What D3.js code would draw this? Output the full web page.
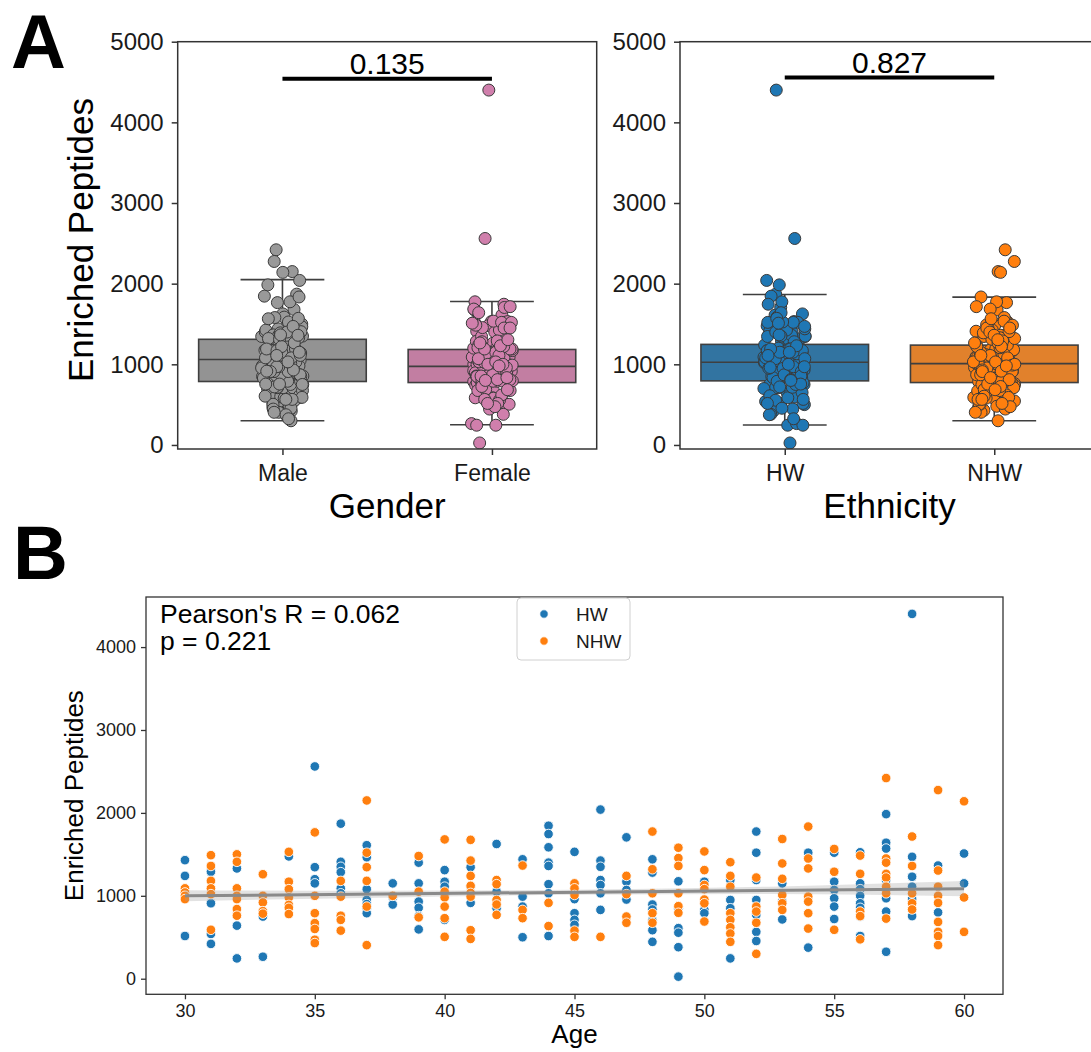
<!DOCTYPE html>
<html><head><meta charset="utf-8">
<script src="https://cdn.jsdelivr.net/npm/d3@7"></script>
<style>
body{margin:0;background:#fff}
svg{display:block;font-family:"Liberation Sans",Arial,sans-serif}
</style>
</head><body>
<svg id="c" width="1091" height="1052"></svg>
<script>
// ---------------- DATA ----------------
const ages = [30,31,32,33,34,35,36,37,38,39,40,41,42,43,44,45,46,47,48,49,50,51,52,53,54,55,56,57,58,59,60];
const hwValues = [
  [1430,1240,515],[1290,910,540,420],[1330,640,245],[750,265],[1475],
  [2560,1345,1200,1150,620],[1870,1410,1350,1285,1090,1030],[1610,1465,1080,950,900,850,790],[1150,980,895],[1400,1150,930,855,755,595],
  [1310,1170,1110,1020,710],[1345,1110,915],[1625,1050,850],[1440,990,870,500],[1845,1745,1585,1400,1360,1140,1030,515],
  [1530,960,790,710,650],[2040,1425,1350,1190,1130,1030,830],[1705,1170,1070,955],[1440,1280,895,835,700,585,445],[1175,850,610,555,380,25],
  [1170,830,790],[1190,950,850,245],[1775,1520,1190,950,770,565,455],[1150,930,715],[1520,375],
  [1520,1170,1070,970,870,720],[1525,1150,1080,1000,910,855,750,515],[1985,1640,1570,1190,970,810,325],[4400,1470,1230,1110,960,755],[1365,800],
  [1510,1150]
];
const nhwValues = [
  [1090,1040,1000,960],[1490,1360,1180,1090,1020,590],[1500,1410,1090,1000,960,840,760],[1260,1000,920,815,785],[1530,1170,1080,980,890,855,780],
  [1765,1000,790,670,600,470,430],[1180,990,760,710,580],[2150,1520,1345,1180,870,405],[1000],[1480,1050,740],
  [1680,1050,980,870,730,505],[1675,1425,1240,1120,1035,990,585,480],[1190,1140,950,895,770],[1365,830,730],[915,635],
  [1150,1090,1010,580,505],[505],[1240,1020,750,675],[1775,1320,1030,790,675],[1580,1455,1360,1030,875,795],
  [1535,1310,1130,1080,955,910,690],[1405,1240,1110,790,710,620,545,445],[1220,870,810,675,300],[1685,1390,1205,1010,910,830],[1835,1450,1330,990,930,790,605],
  [1565,1290,590],[1485,1265,810,755,475],[2420,1450,1400,1265,1220,1110,1030,725],[1715,1360,1030,910,835],[2275,1305,1110,1000,915,685,565,515,405],
  [2140,980,565]
];
// gender of each point above (M = Male, F = Female)
const hwSex = ["MFM","MFMM","MMF","MF","M","FMFMM","MFMFMF","FMFMFMF","FMF","MFMFMF","MFMFM","FMF","MFM","MFMF","MFMFMFMF",
  "FMFMF","MFMFMFM","FMFM","MFMFMFM","MFMFFF","MFM","MFMF","MFMFMFM","MFM","FM","FMFMFM","MFMFMFMF","MFMFMFM","FMFMFM","MF","FM"];
const nhwSex = ["FMFM","FMMFFM","MFMFMFM","FMFMF","FMFMFMM","MFMFMMM","MFMFM","MFMFMM","M","FMF","MFMFMF","FMFMFMFM","FMFMF","MFM","MF",
  "MFMFM","F","MFMF","FMFMF","MFMFMF","FMFMFMF","MFMFMFMF","FMFMM","FMFMFM","MFMFMFM","MFM","FMFMF","MFMFMFMF","FMFMF","MFMFMFMFM","MFM"];

const genderCats = ["Male","Female"];
const ethCats = ["HW","NHW"];
// box statistics: [whiskerLow, q1, median, q3, whiskerHigh]
const genderBoxes = [[301,787,1059,1310,2050],[251,774,975,1184,1778]];
const ethBoxes = [[247,795,1025,1247,1866],[301,774,1008,1238,1833]];
const genderP = "0.135", ethP = "0.827";
const sigBarValue = [4540, 4556];
const boxTicks = [0,1000,2000,3000,4000,5000];
const scatterYTicks = [0,1000,2000,3000,4000];
const ageTicks = [30,35,40,45,50,55,60];
// regression fit and confidence band
const regAge = [30,60], regFit = [1000,1085];
const ciAge = [30,37.5,45,52.5,60];
const ciLow = [935,978,1012,1022,995];
const ciHigh = [1068,1062,1074,1110,1178];
const statLines = ["Pearson's R = 0.062","p = 0.221"];

// ---------------- DRAW ----------------
const svg = d3.select("#c");
svg.append("rect").attr("width",1091).attr("height",1052).attr("fill","#fff");
const TXT = "#1a1a1a", SPINE = "#333";

// deterministic jitter (visual placement only)
function jit(i){ const s = Math.sin(i*12.9898+78.233)*43758.5453; return (s-Math.floor(s)) - 0.5; }

// flatten
const pts = [];
ages.forEach((a,i)=>{
  hwValues[i].forEach((v,j)=>pts.push({age:a,val:v,eth:"HW",sex:hwSex[i][j]==="M"?"Male":"Female"}));
  nhwValues[i].forEach((v,j)=>pts.push({age:a,val:v,eth:"NHW",sex:nhwSex[i][j]==="M"?"Male":"Female"}));
});

function boxPanel(opt){
  const {x0,x1,y0,y1,cats,boxes,key,ptColors,boxColors,pText,sigVal,xlabel,jseed} = opt;
  const g = svg.append("g");
  const y = d3.scaleLinear().domain([-50,5000]).range([y1,y0]);
  const x = d3.scalePoint().domain(cats).range([x0,x1]).padding(0.5);
  const bw = x.step()*0.8;
  const defs = svg.append("defs");
  const cid = "clip"+jseed;
  defs.append("clipPath").attr("id",cid).append("rect").attr("x",x0).attr("y",y0).attr("width",x1-x0).attr("height",y1-y0);
  const inner = g.append("g").attr("clip-path",`url(#${cid})`);
  // boxes
  cats.forEach((c,k)=>{
    const b = boxes[k], cx = x(c);
    const bg = inner.append("g").attr("stroke","#3f3f3f").attr("stroke-width",1.6);
    bg.append("line").attr("x1",cx).attr("x2",cx).attr("y1",y(b[0])).attr("y2",y(b[1]));
    bg.append("line").attr("x1",cx).attr("x2",cx).attr("y1",y(b[3])).attr("y2",y(b[4]));
    bg.append("line").attr("x1",cx-bw/4).attr("x2",cx+bw/4).attr("y1",y(b[0])).attr("y2",y(b[0]));
    bg.append("line").attr("x1",cx-bw/4).attr("x2",cx+bw/4).attr("y1",y(b[4])).attr("y2",y(b[4]));
    bg.append("rect").attr("x",cx-bw/2).attr("width",bw).attr("y",y(b[3])).attr("height",y(b[1])-y(b[3])).attr("fill",boxColors[k]);
    bg.append("line").attr("x1",cx-bw/2).attr("x2",cx+bw/2).attr("y1",y(b[2])).attr("y2",y(b[2]));
  });
  // strip points
  cats.forEach((c,k)=>{
    const sub = pts.filter(p=>p[key]===c);
    inner.append("g").selectAll("circle").data(sub).join("circle")
      .attr("cx",(d,i)=>x(c)+jit(i*3+jseed+k*101)*2*0.1*x.step())
      .attr("cy",d=>y(d.val)).attr("r",6)
      .attr("fill",ptColors[k]).attr("stroke","#3a3a3a").attr("stroke-width",1);
  });
  // spines
  g.append("rect").attr("x",x0).attr("y",y0).attr("width",x1-x0).attr("height",y1-y0)
    .attr("fill","none").attr("stroke",SPINE).attr("stroke-width",1.5);
  // y axis
  const ya = g.append("g").attr("transform",`translate(${x0},0)`)
    .call(d3.axisLeft(y).tickValues(boxTicks).tickSize(6).tickPadding(8).tickFormat(d3.format("d")));
  ya.select(".domain").remove();
  ya.selectAll("line").attr("stroke",SPINE).attr("stroke-width",1.5);
  ya.selectAll("text").attr("font-size",24).attr("fill",TXT).attr("font-family","Liberation Sans, Arial");
  // x axis
  const xa = g.append("g").attr("transform",`translate(0,${y1})`)
    .call(d3.axisBottom(x).tickSize(6).tickPadding(10));
  xa.select(".domain").remove();
  xa.selectAll("line").attr("stroke",SPINE).attr("stroke-width",1.5);
  xa.selectAll("text").attr("font-size",23).attr("fill",TXT).attr("font-family","Liberation Sans, Arial");
  // significance
  g.append("line").attr("x1",x(cats[0])).attr("x2",x(cats[1])).attr("y1",y(sigVal)).attr("y2",y(sigVal))
    .attr("stroke","#000").attr("stroke-width",4);
  g.append("text").attr("x",(x(cats[0])+x(cats[1]))/2).attr("y",y(sigVal)-5).attr("text-anchor","middle")
    .attr("font-size",30).attr("fill","#000").text(pText);
  // x label
  g.append("text").attr("x",(x0+x1)/2).attr("y",518).attr("text-anchor","middle").attr("font-size",35).attr("fill","#000").text(xlabel);
  return y;
}

boxPanel({x0:177.7,x1:596.7,y0:41.7,y1:449,cats:genderCats,boxes:genderBoxes,key:"sex",
  ptColors:["#999999","#d07fac"],boxColors:["#939393","#c27ea2"],pText:genderP,sigVal:sigBarValue[0],xlabel:"Gender",jseed:1});
boxPanel({x0:680,x1:1099,y0:41.7,y1:449,cats:ethCats,boxes:ethBoxes,key:"eth",
  ptColors:["#1f77b4","#ff7f0e"],boxColors:["#3274a1","#e1812c"],pText:ethP,sigVal:sigBarValue[1],xlabel:"Ethnicity",jseed:7});

svg.append("text").attr("transform","translate(93,240) rotate(-90)").attr("text-anchor","middle")
  .attr("font-size",35).attr("fill","#000").text("Enriched Peptides");
svg.append("text").attr("x",11).attr("y",68).attr("font-size",76).attr("font-weight","bold").attr("fill","#000").text("A");
svg.append("text").attr("x",13).attr("y",579).attr("font-size",76).attr("font-weight","bold").attr("fill","#000").text("B");

// ---------------- PANEL B ----------------
const bx0=146,bx1=1003,by0=597,by1=994.3;
const xs = d3.scaleLinear().domain([28.5,61.5]).range([bx0,bx1]);
const ys = d3.scaleLinear().domain([-188,4604]).range([by1,by0]);
const colB = {HW:"#1f77b4",NHW:"#ff7f0e"};
const gB = svg.append("g");
gB.append("g").selectAll("circle").data(pts).join("circle")
  .attr("cx",d=>xs(d.age)).attr("cy",d=>ys(d.val)).attr("r",4.8)
  .attr("fill",d=>colB[d.eth]).attr("stroke","#fff").attr("stroke-width",0.9);
// CI band & regression line
const area = d3.area().x((d,i)=>xs(ciAge[i])).y0((d,i)=>ys(ciLow[i])).y1((d,i)=>ys(ciHigh[i])).curve(d3.curveMonotoneX);
gB.append("path").attr("d",area(ciAge)).attr("fill","#a0a0a0").attr("opacity",0.3);
gB.append("path").attr("d",d3.line().x((d,i)=>xs(regAge[i])).y((d,i)=>ys(regFit[i]))(regAge))
  .attr("stroke","#8a8a8a").attr("stroke-width",3).attr("fill","none");
gB.append("rect").attr("x",bx0).attr("y",by0).attr("width",bx1-bx0).attr("height",by1-by0)
  .attr("fill","none").attr("stroke",SPINE).attr("stroke-width",1.3);
const yaB = gB.append("g").attr("transform",`translate(${bx0},0)`)
  .call(d3.axisLeft(ys).tickValues(scatterYTicks).tickSize(5).tickPadding(5).tickFormat(d3.format("d")));
yaB.select(".domain").remove();
yaB.selectAll("line").attr("stroke",SPINE).attr("stroke-width",1.3);
yaB.selectAll("text").attr("font-size",18).attr("fill",TXT).attr("font-family","Liberation Sans, Arial");
const xaB = gB.append("g").attr("transform",`translate(0,${by1})`)
  .call(d3.axisBottom(xs).tickValues(ageTicks).tickSize(5).tickPadding(5).tickFormat(d3.format("d")));
xaB.select(".domain").remove();
xaB.selectAll("line").attr("stroke",SPINE).attr("stroke-width",1.3);
xaB.selectAll("text").attr("font-size",18).attr("fill",TXT).attr("font-family","Liberation Sans, Arial");
gB.append("text").attr("x",(bx0+bx1)/2).attr("y",1043).attr("text-anchor","middle").attr("font-size",26).attr("fill","#000").text("Age");
gB.append("text").attr("transform",`translate(83,${(by0+by1)/2}) rotate(-90)`).attr("text-anchor","middle")
  .attr("font-size",26).attr("fill","#000").text("Enriched Peptides");
statLines.forEach((t,i)=>gB.append("text").attr("x",160).attr("y",623+i*27).attr("font-size",26.5).attr("fill","#000").text(t));
// legend
const lg = gB.append("g");
lg.append("rect").attr("x",517).attr("y",598).attr("width",113).attr("height",62).attr("rx",4)
  .attr("fill","#fff").attr("fill-opacity",0.8).attr("stroke","#d0d0d0");
ethCats.forEach((c,i)=>{
  lg.append("circle").attr("cx",544).attr("cy",614+i*27).attr("r",4.2).attr("fill",colB[c]).attr("stroke","#fff").attr("stroke-width",0.8);
  lg.append("text").attr("x",576).attr("y",614+i*27).attr("dy","0.35em").attr("font-size",19).attr("fill",TXT).text(c);
});
</script>
</body></html>
